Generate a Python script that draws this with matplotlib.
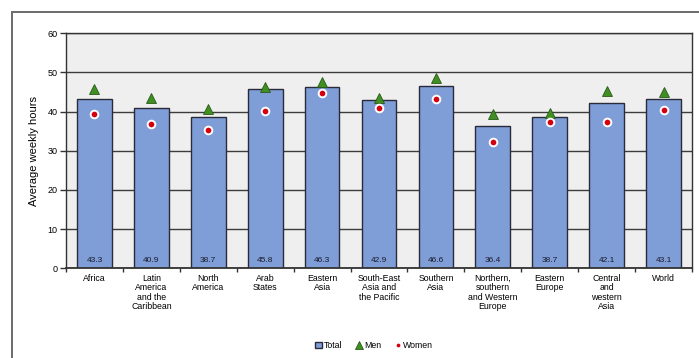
import numpy as np
import matplotlib
matplotlib.use('Agg')
import matplotlib.pyplot as plt
from matplotlib.patches import Rectangle

plt.rcParams['font.family'] = ['Liberation Sans Narrow', 'Liberation Sans', 'DejaVu Sans']

regions = ["Africa", "Latin\nAmerica\nand the\nCaribbean", "North\nAmerica", "Arab\nStates",
           "Eastern\nAsia", "South-East\nAsia and\nthe Pacific", "Southern\nAsia",
           "Northern,\nsouthern\nand Western\nEurope", "Eastern\nEurope",
           "Central\nand\nwestern\nAsia", "World"]
total = [43.3, 40.9, 38.7, 45.8, 46.3, 42.9, 46.6, 36.4, 38.7, 42.1, 43.1]
men = [45.7, 43.5, 40.6, 46.2, 47.6, 43.6, 48.5, 39.5, 39.7, 45.2, 44.9]
women = [39.3, 36.9, 35.4, 40.1, 44.8, 40.8, 43.1, 32.2, 37.3, 37.3, 40.5]

fig = plt.figure(figsize=(6.99, 3.58), dpi=100)
ax = fig.add_axes([0.0944, 0.2506, 0.8956, 0.6564])

# ramka wokol calego wykresu
fig.patches.append(Rectangle((11.5/699, -0.1), 1.2, (358-11.5)/358 + 0.1,
                             transform=fig.transFigure, fill=False,
                             edgecolor='#6a6a6a', lw=1.4, zorder=0))

x = np.arange(len(regions))
ax.set_facecolor('#efefef')
ax.set_axisbelow(True)
ax.grid(axis='y', color='#3c3c3c', lw=1.0)

h_tot = ax.bar(x, total, width=0.61, color='#7f9ed8', edgecolor='#2a2a3a', lw=1.0, label='Total', zorder=2)
h_men, = ax.plot(x, men, '^', color='#3f8f23', mec='#2a5a18', mew=0.6, ms=7.5, label='Men', zorder=3)
h_wom, = ax.plot(x, women, 'o', color='#d40010', mec='white', mew=1.4, ms=5.5, label='Women', zorder=4)

for xi, v in zip(x, total):
    ax.text(xi, 1.2, '%.1f' % v, ha='center', va='bottom', fontsize=6, color='#1a1a2a', zorder=5)

ax.set_xlim(-0.5, len(regions) - 0.5)
ax.set_ylim(0, 60)
ax.set_yticks(range(0, 61, 10))
ax.tick_params(axis='y', labelsize=6.5, length=4, width=1, color='#333333', pad=2)
ax.set_xticks(x)
ax.set_xticklabels(regions, fontsize=6.3, linespacing=1.05)
ax.tick_params(axis='x', length=0, pad=4)
ax.set_xticks(np.arange(-0.5, len(regions)), minor=True)
ax.tick_params(axis='x', which='minor', length=3, width=1, color='#333333')
for s in ax.spines.values():
    s.set_color('#333333')
    s.set_linewidth(1.0)
ax.spines['bottom'].set_linewidth(1.3)

ax.set_ylabel('Average weekly hours', fontsize=8, labelpad=6)

fig.legend([h_tot, h_men, h_wom], ['Total', 'Men', 'Women'],
           loc='lower center', bbox_to_anchor=(0.535, 0.0), ncol=3, frameon=False,
           fontsize=6.3, handlelength=0.8, handleheight=0.8, handletextpad=0.2,
           columnspacing=1.5, markerscale=0.75)

fig.savefig('out.png', dpi=100)
